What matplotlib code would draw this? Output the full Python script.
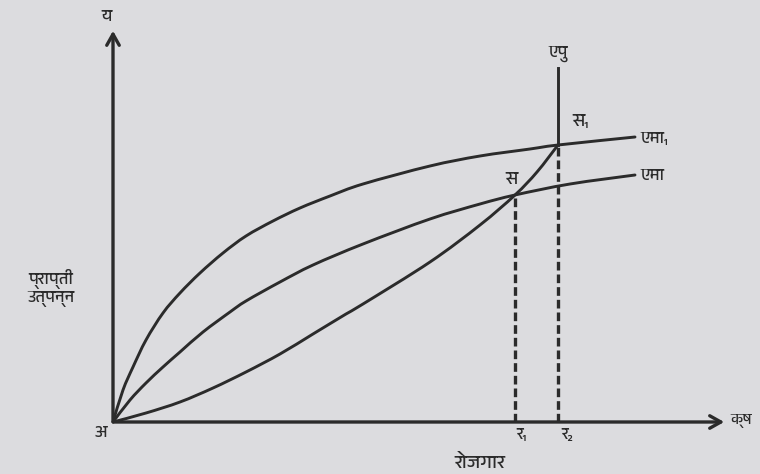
import numpy as np
import matplotlib
matplotlib.use('Agg')
import matplotlib.pyplot as plt
from matplotlib import font_manager
from matplotlib.path import Path
from matplotlib.patches import PathPatch

# curves (x = employment, y = product)
x_ap1 = [0, 10, 20, 33, 50, 67, 87, 110, 133, 160, 187, 217, 250, 317, 367, 417, 445, 522]
y_ap1 = [0, 32, 55, 82, 109, 129, 149, 169, 186, 201, 214, 226, 238, 256, 266, 273, 277, 285]

x_ap = [0, 17, 33, 50, 67, 90, 117, 133, 167, 200, 250, 317, 367, 402, 457, 522]
y_ap = [0, 22, 39, 55, 70, 90, 110, 121, 140, 157, 178, 203, 218, 227, 238, 247]

x_mc = [0, 33, 67, 100, 133, 167, 200, 233, 250, 317, 367, 402, 424, 445]
y_mc = [0, 9, 20, 34, 50, 68, 88, 108, 118, 160, 197, 227, 250, 277]

x_r1, y_s = 402, 227
x_r2, y_s1 = 445, 277
y_top = 354
x_end, y_end = 614, 394

# look for any font with Devanagari glyphs
families = []
for f in font_manager.fontManager.ttflist:
    n = f.name.lower()
    if any(k in n for k in ['devanagari', 'lohit', 'mukta', 'hind', 'mangal', 'kalimati', 'gargi', 'sarai']):
        if f.name not in families:
            families.append(f.name)
families.append('DejaVu Sans')
plt.rcParams['font.family'] = families


def smooth_curve(xs, ys):
    # catmull-rom through the read points, drawn as bezier segments
    p = np.column_stack([xs, ys]).astype(float)
    pts = [p[0]]
    codes = [Path.MOVETO]
    for i in range(len(p) - 1):
        p0 = p[i - 1] if i > 0 else p[i]
        p3 = p[i + 2] if i + 2 < len(p) else p[i + 1]
        c1 = p[i] + (p[i + 1] - p0) / 6
        c2 = p[i + 1] - (p3 - p[i]) / 6
        pts += [c1, c2, p[i + 1]]
        codes += [Path.CURVE4] * 3
    return Path(pts, codes)


ink = '#2b2b2b'
bg = '#dcdcdf'
fig = plt.figure(figsize=(7.6, 4.74), dpi=100)
fig.patch.set_facecolor(bg)
ax = fig.add_axes([0, 0, 1, 1])
ax.set_facecolor(bg)
ax.set_xlim(-113, 647)
ax.set_ylim(-52, 422)
ax.axis('off')

lw = 2.1
for xs, ys in [(x_ap1, y_ap1), (x_ap, y_ap), (x_mc, y_mc)]:
    ax.add_patch(PathPatch(smooth_curve(xs, ys), fill=False, edgecolor=ink, lw=lw,
                           capstyle='round', joinstyle='round'))

# axes with open arrows
ax.annotate('', xy=(0, y_end), xytext=(0, -2),
            arrowprops=dict(arrowstyle='->,head_length=0.8,head_width=0.45', color=ink, lw=2.4))
ax.annotate('', xy=(x_end, 0), xytext=(-2, 0),
            arrowprops=dict(arrowstyle='->,head_length=0.8,head_width=0.45', color=ink, lw=2.4))

# vertical line and drop lines
ax.plot([x_r2, x_r2], [y_s1, y_top], color=ink, lw=lw)
ax.plot([x_r2, x_r2], [0, y_s1], color=ink, lw=2.4, ls=(0, (2.6, 1.2)))
ax.plot([x_r1, x_r1], [0, y_s], color=ink, lw=2.4, ls=(0, (2.6, 1.2)))

fs = 13
kw = dict(color=ink, fontweight='bold')
ax.text(-6, 398, 'य', ha='center', va='bottom', fontsize=12, **kw)
ax.text(x_end + 3, 1, 'क्ष', ha='left', va='center', fontsize=11, **kw)
ax.text(-12, -4, 'अ', ha='center', va='top', fontsize=12, **kw)
ax.text(-62, 134, 'प्राप्ती\nउत्पन्न', ha='center', va='center', fontsize=12,
        linespacing=1.25, **kw)
ax.text(367, -40, 'रोजगार', ha='center', va='center', fontsize=14, **kw)
ax.text(x_r1 + 6, -6, 'र₁', ha='center', va='top', fontsize=12, **kw)
ax.text(x_r2 + 9, -6, 'र₂', ha='center', va='top', fontsize=12, **kw)
ax.text(x_r2, y_top + 6, 'एपु', ha='center', va='bottom', fontsize=12, **kw)
ax.text(x_r2 + 23, y_s1 + 16, 'स₁', ha='center', va='bottom', fontsize=fs, **kw)
ax.text(x_r1 - 3, y_s + 8, 'स', ha='center', va='bottom', fontsize=fs, **kw)
ax.text(527, y_ap1[-1] - 2, 'एमा₁', ha='left', va='center', fontsize=12, **kw)
ax.text(527, y_ap[-1] - 1, 'एमा', ha='left', va='center', fontsize=12, **kw)

fig.savefig('out.png', dpi=100, facecolor=fig.get_facecolor())
